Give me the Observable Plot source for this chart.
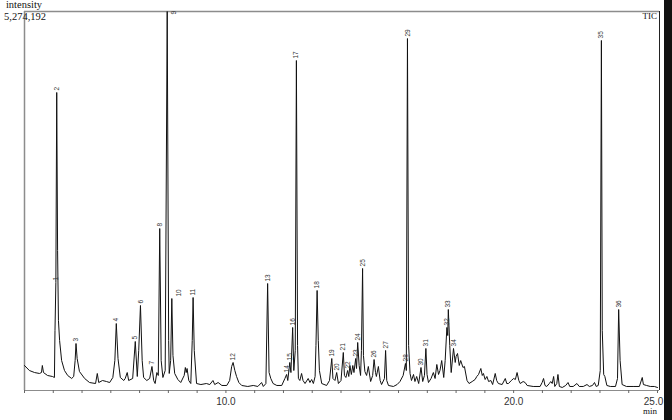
<!DOCTYPE html>
<html><head><meta charset="utf-8">
<script src="https://cdn.jsdelivr.net/npm/d3@7"></script>
<script src="https://cdn.jsdelivr.net/npm/@observablehq/plot@0.6"></script>
<style>
html,body{margin:0;padding:0;background:#fff;}
#wrap{position:relative;width:672px;height:420px;overflow:hidden;background:#fff;}
#wrap svg{display:block;}
#edge{position:absolute;left:664px;top:0;width:8px;height:420px;background:#111;}
</style></head><body><div id="wrap"><div id="edge"></div></div>
<script>
// full-scale intensity of the TIC
const yMax = 5274192;
// TIC trace: [retention time (min), intensity (thousand counts)]
const trace = [
[3.00,348],[3.17,278],[3.35,250],[3.52,237],[3.59,250],[3.62,348],[3.66,250],[3.80,209],[3.97,195],[4.04,181],
[4.06,835],[4.09,1503],[4.12,4147],[4.15,1948],[4.18,974],[4.22,696],[4.29,417],[4.39,278],[4.50,209],[4.64,167],
[4.71,195],[4.76,417],[4.79,654],[4.83,445],[4.91,264],[5.09,167],[5.26,111],[5.47,97],[5.53,237],[5.58,111],
[5.71,139],[5.85,125],[5.96,111],[6.07,181],[6.14,417],[6.19,932],[6.25,445],[6.33,181],[6.45,139],[6.50,167],
[6.57,250],[6.62,139],[6.76,167],[6.85,682],[6.92,195],[6.97,557],[7.03,1183],[7.09,417],[7.14,181],[7.25,139],
[7.35,167],[7.43,334],[7.49,139],[7.54,97],[7.60,250],[7.65,209],[7.70,2254],[7.75,417],[7.81,181],[7.89,278],
[7.96,5274],[8.01,696],[8.03,237],[8.08,417],[8.12,1280],[8.16,487],[8.22,237],[8.33,153],[8.43,111],[8.55,209],
[8.59,320],[8.62,250],[8.65,306],[8.71,139],[8.78,97],[8.83,696],[8.86,1294],[8.90,557],[8.98,97],[9.13,83],
[9.32,97],[9.44,83],[9.55,139],[9.61,83],[9.73,111],[9.86,70],[10.03,70],[10.13,139],[10.20,334],[10.25,390],
[10.31,278],[10.37,195],[10.45,111],[10.55,70],[10.76,56],[10.95,70],[11.11,56],[11.24,111],[11.30,56],[11.39,97],
[11.45,1489],[11.50,250],[11.56,167],[11.64,97],[11.77,70],[11.94,70],[12.05,167],[12.11,223],[12.15,139],[12.22,390],
[12.26,250],[12.32,877],[12.36,278],[12.41,557],[12.45,4592],[12.49,626],[12.52,167],[12.57,139],[12.63,237],[12.68,139],
[12.75,97],[12.86,167],[12.92,111],[12.98,153],[13.04,97],[13.10,195],[13.13,626],[13.17,1392],[13.21,696],[13.25,278],
[13.33,97],[13.50,70],[13.60,139],[13.68,445],[13.72,167],[13.79,139],[13.85,250],[13.91,97],[14.00,139],[14.08,529],
[14.12,209],[14.17,181],[14.23,278],[14.27,195],[14.31,348],[14.36,223],[14.41,348],[14.45,250],[14.51,445],[14.54,306],
[14.58,668],[14.63,348],[14.68,209],[14.71,557],[14.75,1698],[14.78,487],[14.83,264],[14.89,209],[14.95,334],[15.03,125],
[15.10,209],[15.15,431],[15.20,250],[15.23,195],[15.30,334],[15.36,139],[15.41,83],[15.51,167],[15.55,557],[15.59,139],
[15.65,70],[15.82,56],[15.95,83],[16.05,125],[16.16,209],[16.24,376],[16.27,278],[16.31,4898],[16.35,626],[16.40,237],
[16.45,139],[16.52,223],[16.57,125],[16.63,195],[16.70,97],[16.78,320],[16.84,125],[16.90,209],[16.95,585],[16.99,223],
[17.04,111],[17.13,167],[17.21,250],[17.27,167],[17.33,362],[17.39,223],[17.44,278],[17.50,417],[17.57,181],[17.62,417],
[17.68,877],[17.71,765],[17.73,1127],[17.78,626],[17.83,250],[17.91,585],[17.97,390],[18.00,473],[18.05,515],[18.11,348],
[18.16,417],[18.24,320],[18.29,334],[18.38,139],[18.45,97],[18.56,125],[18.66,153],[18.72,195],[18.78,223],[18.86,306],
[18.91,209],[18.95,237],[19.01,153],[19.07,195],[19.13,125],[19.21,139],[19.27,83],[19.36,237],[19.41,139],[19.47,97],
[19.60,83],[19.71,167],[19.76,97],[19.82,97],[19.92,139],[20.00,167],[20.06,153],[20.12,250],[20.18,139],[20.23,97],
[20.33,125],[20.40,111],[20.47,70],[20.68,56],[20.92,56],[20.99,111],[21.04,167],[21.09,70],[21.15,56],[21.24,97],
[21.29,125],[21.34,97],[21.39,195],[21.43,56],[21.50,97],[21.54,223],[21.59,56],[21.69,42],[21.81,70],[21.89,111],
[21.95,56],[22.07,56],[22.20,97],[22.28,56],[22.42,56],[22.55,83],[22.63,56],[22.74,70],[22.81,111],[22.87,56],
[22.94,70],[23.01,278],[23.05,4871],[23.08,835],[23.13,223],[23.17,195],[23.24,70],[23.36,56],[23.54,56],[23.61,167],
[23.65,1127],[23.70,417],[23.77,83],[23.92,56],[24.18,56],[24.37,56],[24.47,181],[24.51,83],[24.62,70],[24.75,56],
[24.89,56],[25.00,42]
];
// peak labels
const peakNo = ["1","2","3","4","5","6","7","8","9","10","11","12","13","14","15","16","17","18","19","20",
  "21","22","23","24","25","26","27","28","29","30","31","32","33","34","35","36"];
const labelTime = [4.09,4.12,4.79,6.19,6.85,7.03,7.43,7.70,8.20,8.38,8.86,10.25,11.45,12.11,12.22,12.32,12.45,13.17,13.68,13.85,
  14.08,14.23,14.51,14.58,14.75,15.15,15.55,16.24,16.31,16.78,16.95,17.68,17.73,17.91,23.05,23.65];
const labelIntensity = [1503,4147,654,932,682,1183,334,2254,5205,1280,1294,390,1489,223,390,877,4592,1392,445,250,
  529,278,445,668,1698,431,557,376,4898,320,585,877,1127,585,4871,1127];
// x axis ticks (min) and labelled ticks
const xTicks = d3.range(3, 26, 1);
const xLabelled = [10, 20];
const xLabelledEnd = [25];

const labels = peakNo.map((n, i) => ({n, t: labelTime[i], v: labelIntensity[i] * 1000}));
const traceData = trace.map(([t, v]) => ({t, v: v * 1000}));
const tickText = {text: d => d.toFixed(1), frameAnchor: "bottom", lineAnchor: "top", dy: 7,
  fontSize: 10, fontFamily: "Liberation Sans", fill: "#333"};

const plot = Plot.plot({
  width: 672,
  height: 420,
  marginLeft: 24,
  marginRight: 15,
  marginTop: 11,
  marginBottom: 30,
  style: {background: "#fff", color: "#222", fontFamily: "Liberation Sans"},
  x: {domain: [3, 25]},
  y: {domain: [0, yMax], axis: null},
  marks: [
    Plot.ruleY([yMax], {stroke: "#8c8c8c", strokeWidth: 1.5, insetRight: -2, insetLeft: 0}),
    Plot.ruleY([0], {stroke: "#8c8c8c", strokeWidth: 1.2, insetRight: -2}),
    Plot.ruleX([3], {stroke: "#8c8c8c", strokeWidth: 1.5}),
    Plot.ruleX([25], {stroke: "#222", strokeWidth: 1, dx: 2}),
    Plot.axisX(xTicks, {tickSize: 3, stroke: "#666", tickFormat: null, text: null, label: null}),
    Plot.text(xLabelled, {x: d => d, ...tickText}),
    Plot.text(xLabelledEnd, {x: d => d, ...tickText, dx: -4}),
    Plot.line(traceData, {x: "t", y: "v", stroke: "#111", strokeWidth: 1}),
    Plot.text(labels, {x: "t", y: "v", text: "n", rotate: -90, textAnchor: "start", dy: -2,
      fontSize: 6.5, fontFamily: "Liberation Sans", fill: "#333"})
  ]
});

const svg = d3.select(plot);
svg.append("text").attr("x", 24).attr("y", 8).attr("font-family", "Liberation Serif")
  .attr("font-size", 10.5).attr("fill", "#111").text("intensity");
svg.append("text").attr("x", 25).attr("y", 19.5).attr("font-family", "Liberation Serif")
  .attr("font-size", 10.5).attr("fill", "#111").text(d3.format(",")(yMax));
svg.append("text").attr("x", 657).attr("y", 18.5).attr("text-anchor", "end").attr("font-family", "Liberation Serif")
  .attr("font-size", 9).attr("fill", "#111").text("TIC");
svg.append("text").attr("x", 657).attr("y", 414).attr("text-anchor", "end").attr("font-family", "Liberation Serif")
  .attr("font-size", 9).attr("fill", "#111").text("min");

document.getElementById("wrap").prepend(plot);
</script>
</body></html>
